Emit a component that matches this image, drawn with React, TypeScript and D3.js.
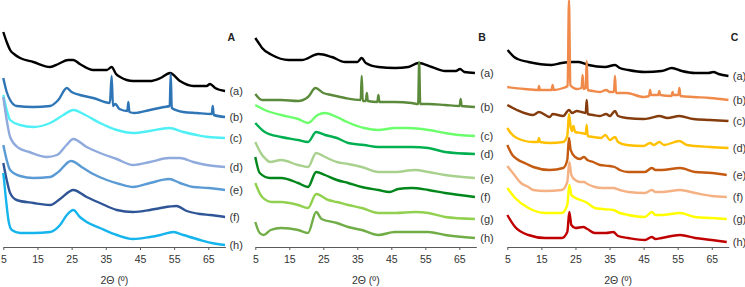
// XRD patterns, three stacked panels (A, B, C) drawn with d3.

import { useEffect, useRef } from "react";
import * as d3 from "d3";

type Pt = [number, number]; // [2θ in degrees, intensity in a.u. (offset included)]

const xTicks = [5, 15, 25, 35, 45, 55, 65];

// ---- panel A ----
const A_a: Pt[] = [[5, 215], [6, 205], [7, 197], [8.5, 192], [9.9, 189], [13.8, 185], [18.7, 180], [21.1, 183], [24, 187], [25.5, 187], [27.4, 183], [31.3, 177], [35.3, 177], [36.7, 180], [38, 173], [39.2, 170], [43, 166], [47.9, 166], [51, 169], [53.8, 174], [56.7, 166], [60.6, 161], [64.5, 161], [65.5, 163], [67, 159], [69.9, 156]];
const A_b: Pt[] = [[5, 169], [6, 155], [7, 147], [8.9, 141], [13.8, 140], [18.7, 141], [21.1, 147], [23.6, 159], [25, 155], [27.4, 152], [31.3, 149], [36.2, 144], [36.7, 171], [37.1, 141], [37.8, 143], [39, 138], [41.3, 136], [41.6, 145], [41.9, 135], [43.4, 134], [47.9, 137], [52, 140], [53.7, 141], [54, 173], [54.3, 139], [57.7, 135], [61.6, 134], [66, 133], [66.3, 141], [66.6, 132], [69.9, 130]];
const A_c: Pt[] = [[5, 152], [6, 137], [7, 127], [9.9, 122], [13.8, 120], [18.7, 124], [22.6, 132], [25.5, 137], [29, 132], [33.3, 124], [38.2, 117], [43, 114], [47.9, 116], [53.5, 119], [57.7, 115], [61.6, 112], [65, 110], [69.9, 109]];
const A_d: Pt[] = [[5, 150], [6, 127], [7, 110], [9.5, 99], [12.6, 95], [17.7, 90], [20.7, 92], [23.5, 102], [25.5, 108], [29.4, 100], [33.3, 94], [38.2, 88], [43, 82], [47.9, 85], [53.5, 89], [56.7, 89], [60.6, 85], [64.5, 82], [69.9, 80]];
const A_e: Pt[] = [[5, 102], [6, 87], [7, 77], [9.9, 71], [13.8, 69], [18.7, 70], [21.1, 75], [24.8, 86], [28.4, 79], [31.3, 73], [35.3, 67], [39, 63], [43, 60], [47.9, 64], [53.5, 68], [56.7, 64], [60.6, 60], [65, 59], [69.9, 57]];
const A_f: Pt[] = [[5, 84], [6, 67], [7, 54], [8.9, 47], [13.8, 44], [18.7, 42], [21.6, 48], [25.5, 57], [29.4, 50], [33.3, 44], [38.2, 37], [43, 35], [47.9, 37], [51, 39], [55.7, 41], [58.7, 36], [62.6, 33], [65.5, 32], [69.9, 30]];
const A_h: Pt[] = [[5, 74], [5.8, 47], [6.6, 25], [7.5, 17], [9.9, 14], [13.8, 14], [18.7, 15], [21.6, 22], [23.6, 32], [25.5, 37], [27.4, 30], [29.4, 25], [33.3, 19], [38.2, 12], [43, 8], [47.9, 10], [51, 12], [54.8, 15], [57.7, 12], [62.6, 7], [66, 4], [69.9, 2]];

// ---- panel B ----
const B_a: Pt[] = [[5, 209], [6, 204], [7, 199], [9.9, 192], [14.8, 187], [18.7, 187], [23.6, 193], [27.5, 190], [31.4, 185], [35, 185], [36.3, 189], [37.5, 184], [41.2, 180], [46.1, 179], [50, 180], [53, 184], [56.9, 180], [60.8, 176], [64, 176], [65.2, 178], [66.5, 175], [69.6, 174]];
const B_b: Pt[] = [[5, 153], [7, 147], [10, 147], [12.6, 147], [17.6, 146], [20.5, 150], [22.7, 159], [25, 154], [27.4, 152], [31.4, 149], [36, 147], [36.3, 171], [36.6, 146], [37.5, 146], [37.8, 154], [38.1, 146], [40.9, 145], [41.2, 152], [41.5, 145], [46, 145], [51, 144], [52.9, 143], [53.2, 185], [53.5, 143], [56, 143], [60.8, 142], [65.1, 141], [65.4, 148], [65.7, 141], [69.6, 140]];
const B_c: Pt[] = [[5, 142], [7.8, 137], [12.6, 132], [17.6, 128], [20.5, 124], [23.3, 132], [25.5, 134], [29, 130], [32, 125], [37, 119], [41.2, 117], [46.1, 119], [50, 119], [56, 117], [60.8, 114], [65, 112], [69.6, 111]];
const B_d: Pt[] = [[5, 124], [7.8, 115], [12.6, 110], [17.6, 107], [20.5, 105], [22.9, 115], [25.5, 112], [29, 109], [32.3, 104], [37, 102], [41.2, 100], [46.1, 100], [51, 100], [55.9, 99], [60.8, 95], [69.6, 93]];
const B_e: Pt[] = [[5, 105], [7, 92], [7.8, 89], [9.3, 85], [12.6, 87], [17.6, 82], [20.5, 80], [22.9, 94], [25.5, 90], [29, 85], [32.3, 83], [36.3, 80], [41.2, 75], [46.1, 75], [52, 77], [55.9, 75], [60.8, 72], [69.6, 69]];
const B_f: Pt[] = [[5, 90], [6.3, 74], [9.3, 69], [12.6, 69], [17.6, 64], [20.5, 60], [22.9, 75], [25.5, 72], [29, 67], [32.3, 64], [36.3, 60], [41.2, 57], [44.5, 55], [47, 58], [51, 59], [55.9, 57], [60.8, 54], [69.6, 50]];
const B_g: Pt[] = [[5, 64], [7, 50], [9.9, 45], [12.6, 45], [17.6, 42], [20.5, 39], [22.9, 53], [26.5, 47], [29, 45], [32.3, 42], [36.3, 39], [41.2, 34], [46.1, 34], [52, 35], [55.9, 34], [60.8, 30], [69.6, 28]];
const B_h: Pt[] = [[5, 25], [6.3, 14], [7.5, 12], [9.5, 17], [12.6, 19], [17.6, 17], [20.5, 14], [22.9, 35], [24.5, 28], [29, 24], [32.3, 20], [36.3, 17], [41.2, 12], [46, 15], [51, 15], [55.9, 15], [60.8, 12], [69.6, 9]];

// ---- panel C ----
const C_a: Pt[] = [[5.1, 197], [7, 190], [8, 188], [11.2, 185], [18, 182], [21, 184], [24, 185], [26, 185], [28.8, 182], [33.7, 180], [36.6, 182], [38, 179], [40.5, 177], [45.4, 175], [50.3, 176], [53.3, 179], [56.2, 176], [60.1, 174], [64, 174], [65.5, 175], [67, 173], [69.9, 171]];
const C_b: Pt[] = [[5, 160], [10, 158], [14.1, 157], [14.3, 161], [14.6, 157], [18, 157], [18.3, 162], [18.6, 157], [21.4, 159], [22.7, 161], [23.1, 247], [23.5, 162], [24.5, 159], [25.4, 158], [26.8, 159], [27.1, 172], [27.4, 158], [28, 159], [28.3, 186], [28.6, 157], [30.2, 156], [32.2, 155], [34, 157], [35.1, 155], [36.3, 155], [36.6, 171], [36.9, 154], [40, 154], [45, 150], [46.6, 151], [46.9, 157], [47.2, 152], [49.3, 152], [49.6, 156], [49.9, 152], [53.2, 151], [53.5, 155], [53.8, 152], [55.2, 152], [55.5, 159], [55.8, 151], [59.6, 150], [64.5, 149], [69.9, 147]];
const C_c: Pt[] = [[5, 142], [7.8, 137], [12.6, 132], [14.3, 135], [17.5, 130], [18.3, 133], [21.4, 131], [23.1, 137], [24, 134], [25.4, 136], [26.8, 135], [28, 134], [28.3, 147], [28.6, 133], [30.2, 132], [32.2, 131], [34, 133], [35.1, 131], [36.6, 136], [37.5, 131], [40, 129], [45, 128], [47, 129], [49.6, 131], [52, 129], [55.5, 131], [59.6, 128], [64.5, 127], [69.9, 126]];
const C_d: Pt[] = [[5, 119], [6, 114], [7.8, 109], [12.6, 105], [14, 105], [14.3, 109], [14.6, 105], [17.5, 104], [21.4, 105], [22.6, 111], [23.1, 133], [23.6, 120], [24, 116], [24.4, 121], [24.9, 115], [26.8, 114], [28, 113], [28.3, 122], [28.6, 111], [30.2, 110], [32.5, 109], [33.8, 112], [35.1, 107], [36.6, 110], [37.5, 105], [40, 102], [45, 101], [46.9, 104], [48, 102], [49.6, 105], [51, 102], [55.5, 106], [57.7, 102], [64.5, 100], [69.9, 99]];
const C_e: Pt[] = [[5, 102], [6.5, 92], [7.8, 88], [10.7, 83], [12.6, 80], [17.5, 77], [21.4, 79], [22.6, 87], [23.1, 109], [23.6, 97], [24.9, 90], [26.3, 88], [27.5, 90], [28.5, 87], [30.2, 85], [32.2, 82], [35, 81], [36.5, 80], [38, 77], [40.5, 75], [45.4, 75], [47.4, 79], [48.5, 77], [50.3, 77], [55.7, 79], [60.1, 75], [65, 74], [69.4, 72]];
const C_f: Pt[] = [[5, 81], [7.3, 71], [9, 64], [11.2, 60], [12.6, 57], [16.1, 56], [21, 57], [22.6, 65], [23.2, 85], [23.8, 72], [24.9, 67], [26.5, 65], [27.5, 65], [28.5, 63], [30.7, 60], [33, 59], [36.1, 59], [38, 57], [40.5, 55], [45.4, 54], [47.4, 57], [48.5, 55], [50.3, 55], [55.7, 57], [60.1, 54], [65, 51], [69.4, 50]];
const C_g: Pt[] = [[5, 59], [7.3, 49], [11.2, 39], [16.1, 34], [21, 34], [22.6, 42], [23.2, 62], [23.8, 52], [25, 49], [27.3, 46], [28.5, 44], [30.7, 39], [33, 38], [36.1, 37], [38, 34], [40.5, 32], [45.4, 30], [47.4, 35], [48.5, 32], [50.3, 32], [55.7, 34], [60.1, 30], [65, 29], [69.4, 28]];
const C_h: Pt[] = [[5, 32], [7.3, 20], [11.2, 12], [16.1, 9], [21, 9], [22.6, 15], [23.2, 35], [23.8, 22], [25, 19], [27.3, 20], [28.5, 18], [30.7, 14], [34, 14], [36.1, 15], [37.5, 11], [40.5, 9], [45.4, 7], [47.4, 10], [48.5, 8], [50.3, 9], [55.7, 12], [60.1, 9], [65, 7], [69.4, 5]];

const labelsA = ["(a)", "(b)", "(c)", "(d)", "(e)", "(f)", "(h)"];
const labelsBC = ["(a)", "(b)", "(c)", "(d)", "(e)", "(f)", "(g)", "(h)"];

const colorsA = ["#000000", "#2e75b6", "#4ff0f5", "#8faadc", "#5b9bd5", "#2f5597", "#15b4ec"];
const colorsB = ["#000000", "#5a8a3a", "#6cff6c", "#00b050", "#a9d18e", "#00861a", "#92d050", "#70ad47"];
const colorsC = ["#000000", "#f08a4b", "#843c0c", "#ffc000", "#c55a11", "#f4b183", "#ffff00", "#c00000"];

const panels = [
  { name: "A", left: 3.3, right: 225.4, series: [A_a, A_b, A_c, A_d, A_e, A_f, A_h], labels: labelsA, colors: colorsA },
  { name: "B", left: 255.3, right: 476.3, series: [B_a, B_b, B_c, B_d, B_e, B_f, B_g, B_h], labels: labelsBC, colors: colorsB },
  { name: "C", left: 507.3, right: 728.8, series: [C_a, C_b, C_c, C_d, C_e, C_f, C_g, C_h], labels: labelsBC, colors: colorsC },
];

const FONT = "'Liberation Sans', Arial, sans-serif";
const baseY = 247;

function Panel({ p }: { p: (typeof panels)[number] }) {
  const axisRef = useRef<SVGGElement>(null);
  const x = d3.scaleLinear([5, 70], [p.left, p.right]);
  const y = d3.scaleLinear([0, 247], [baseY, 0]);

  useEffect(() => {
    const axis = d3
      .axisBottom(x)
      .tickValues(xTicks)
      .tickSize(3)
      .tickSizeOuter(0)
      .tickPadding(6)
      .tickFormat(d3.format("d"));
    const g = d3.select(axisRef.current!);
    g.call(axis);
    g.attr("font-family", FONT).attr("font-size", 10.5);
    g.select(".domain").attr("stroke", "#5a5a5a");
    g.selectAll(".tick line").attr("stroke", "#5a5a5a");
    g.selectAll(".tick text").attr("fill", "#333");
  }, []);

  const line = d3
    .line<Pt>()
    .x((d) => x(d[0]))
    .y((d) => y(d[1]))
    .curve(d3.curveMonotoneX);

  return (
    <g>
      {p.series.map((s, i) => (
        <path
          key={i}
          d={line(s) ?? ""}
          fill="none"
          stroke={p.colors[i]}
          strokeWidth={2.4}
          strokeLinejoin="round"
        />
      ))}
      {p.series.map((s, i) => (
        <text
          key={"l" + i}
          x={p.right + 4}
          y={y(s[s.length - 1][1]) + 4}
          fontSize={11}
          fontFamily={FONT}
          fill="#333"
        >
          {p.labels[i]}
        </text>
      ))}
      <text x={p.right + 2} y={41} fontSize={10.5} fontWeight="bold" fontFamily={FONT} fill="#222">
        {p.name}
      </text>
      <g ref={axisRef} transform={`translate(0,${baseY})`} />
      <text
        x={(x(5) + x(70)) / 2}
        y={284}
        textAnchor="middle"
        fontSize={10.5}
        fontFamily={FONT}
        fill="#333"
      >
        2Θ (º)
      </text>
    </g>
  );
}

export default function App() {
  return (
    <svg
      width={745}
      height={287}
      style={{ position: "absolute", left: 0, top: 0, background: "#fff" }}
    >
      {panels.map((p) => (
        <Panel key={p.name} p={p} />
      ))}
    </svg>
  );
}
